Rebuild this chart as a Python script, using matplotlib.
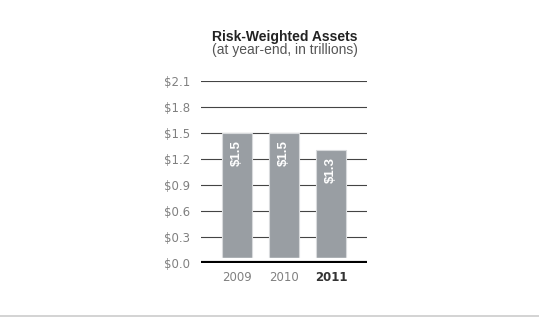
import matplotlib.pyplot as plt
from matplotlib.lines import Line2D

years = ["2009", "2010", "2011"]
rwa = [1.5, 1.5, 1.3]
yticks = [0.0, 0.3, 0.6, 0.9, 1.2, 1.5, 1.8, 2.1]

plt.rcParams['font.family'] = ['Liberation Sans', 'DejaVu Sans']

fig = plt.figure(figsize=(5.39, 3.19), dpi=100)
ax = fig.add_axes([0.373, 0.1755, 0.308, 0.571])

x = range(len(years))
bars = ax.bar(x, rwa, width=0.64, color="#999ea3", edgecolor="#d8dadc", linewidth=0.8, zorder=2)
# small white gap between bars and base line
ax.axhspan(0, 0.06, color="white", zorder=3)
ax.axhline(0, color="black", linewidth=3, zorder=4)

for b, v in zip(bars, rwa):
    ax.text(b.get_x() + b.get_width() / 2, v - 0.08, f"${v:.1f}", rotation=90,
            ha="center", va="top", color="white", fontsize=9.5, fontweight="bold", zorder=5)

ax.set_xlim(-0.77, 2.77)
ax.set_ylim(0, 2.1)
ax.set_yticks(yticks)
ax.set_yticklabels([f"${t:.1f}" for t in yticks], color="#808080", fontsize=8.5,
                   family="DejaVu Sans")
ax.yaxis.grid(True, color="#444444", linewidth=0.8, zorder=1)
ax.set_axisbelow(True)
ax.tick_params(axis="y", length=0, pad=8)
ax.tick_params(axis="x", length=0, pad=6)
ax.set_xticks(list(x))
ax.set_xticklabels(years, fontsize=8.5, color="#808080", family="DejaVu Sans")
lbl = ax.get_xticklabels()[-1]
lbl.set_fontweight("bold")
lbl.set_color("#333333")
for s in ax.spines.values():
    s.set_visible(False)

fig.text(0.529, 0.872, "Risk-Weighted Assets", ha="center", fontsize=10, fontweight="bold", color="#222222")
fig.text(0.529, 0.83, "(at year-end, in trillions)", ha="center", fontsize=10, color="#555555")
fig.add_artist(Line2D([0, 1], [0.008, 0.008], color="#cccccc", linewidth=1.2, transform=fig.transFigure))

fig.savefig("out.png", dpi=100)
